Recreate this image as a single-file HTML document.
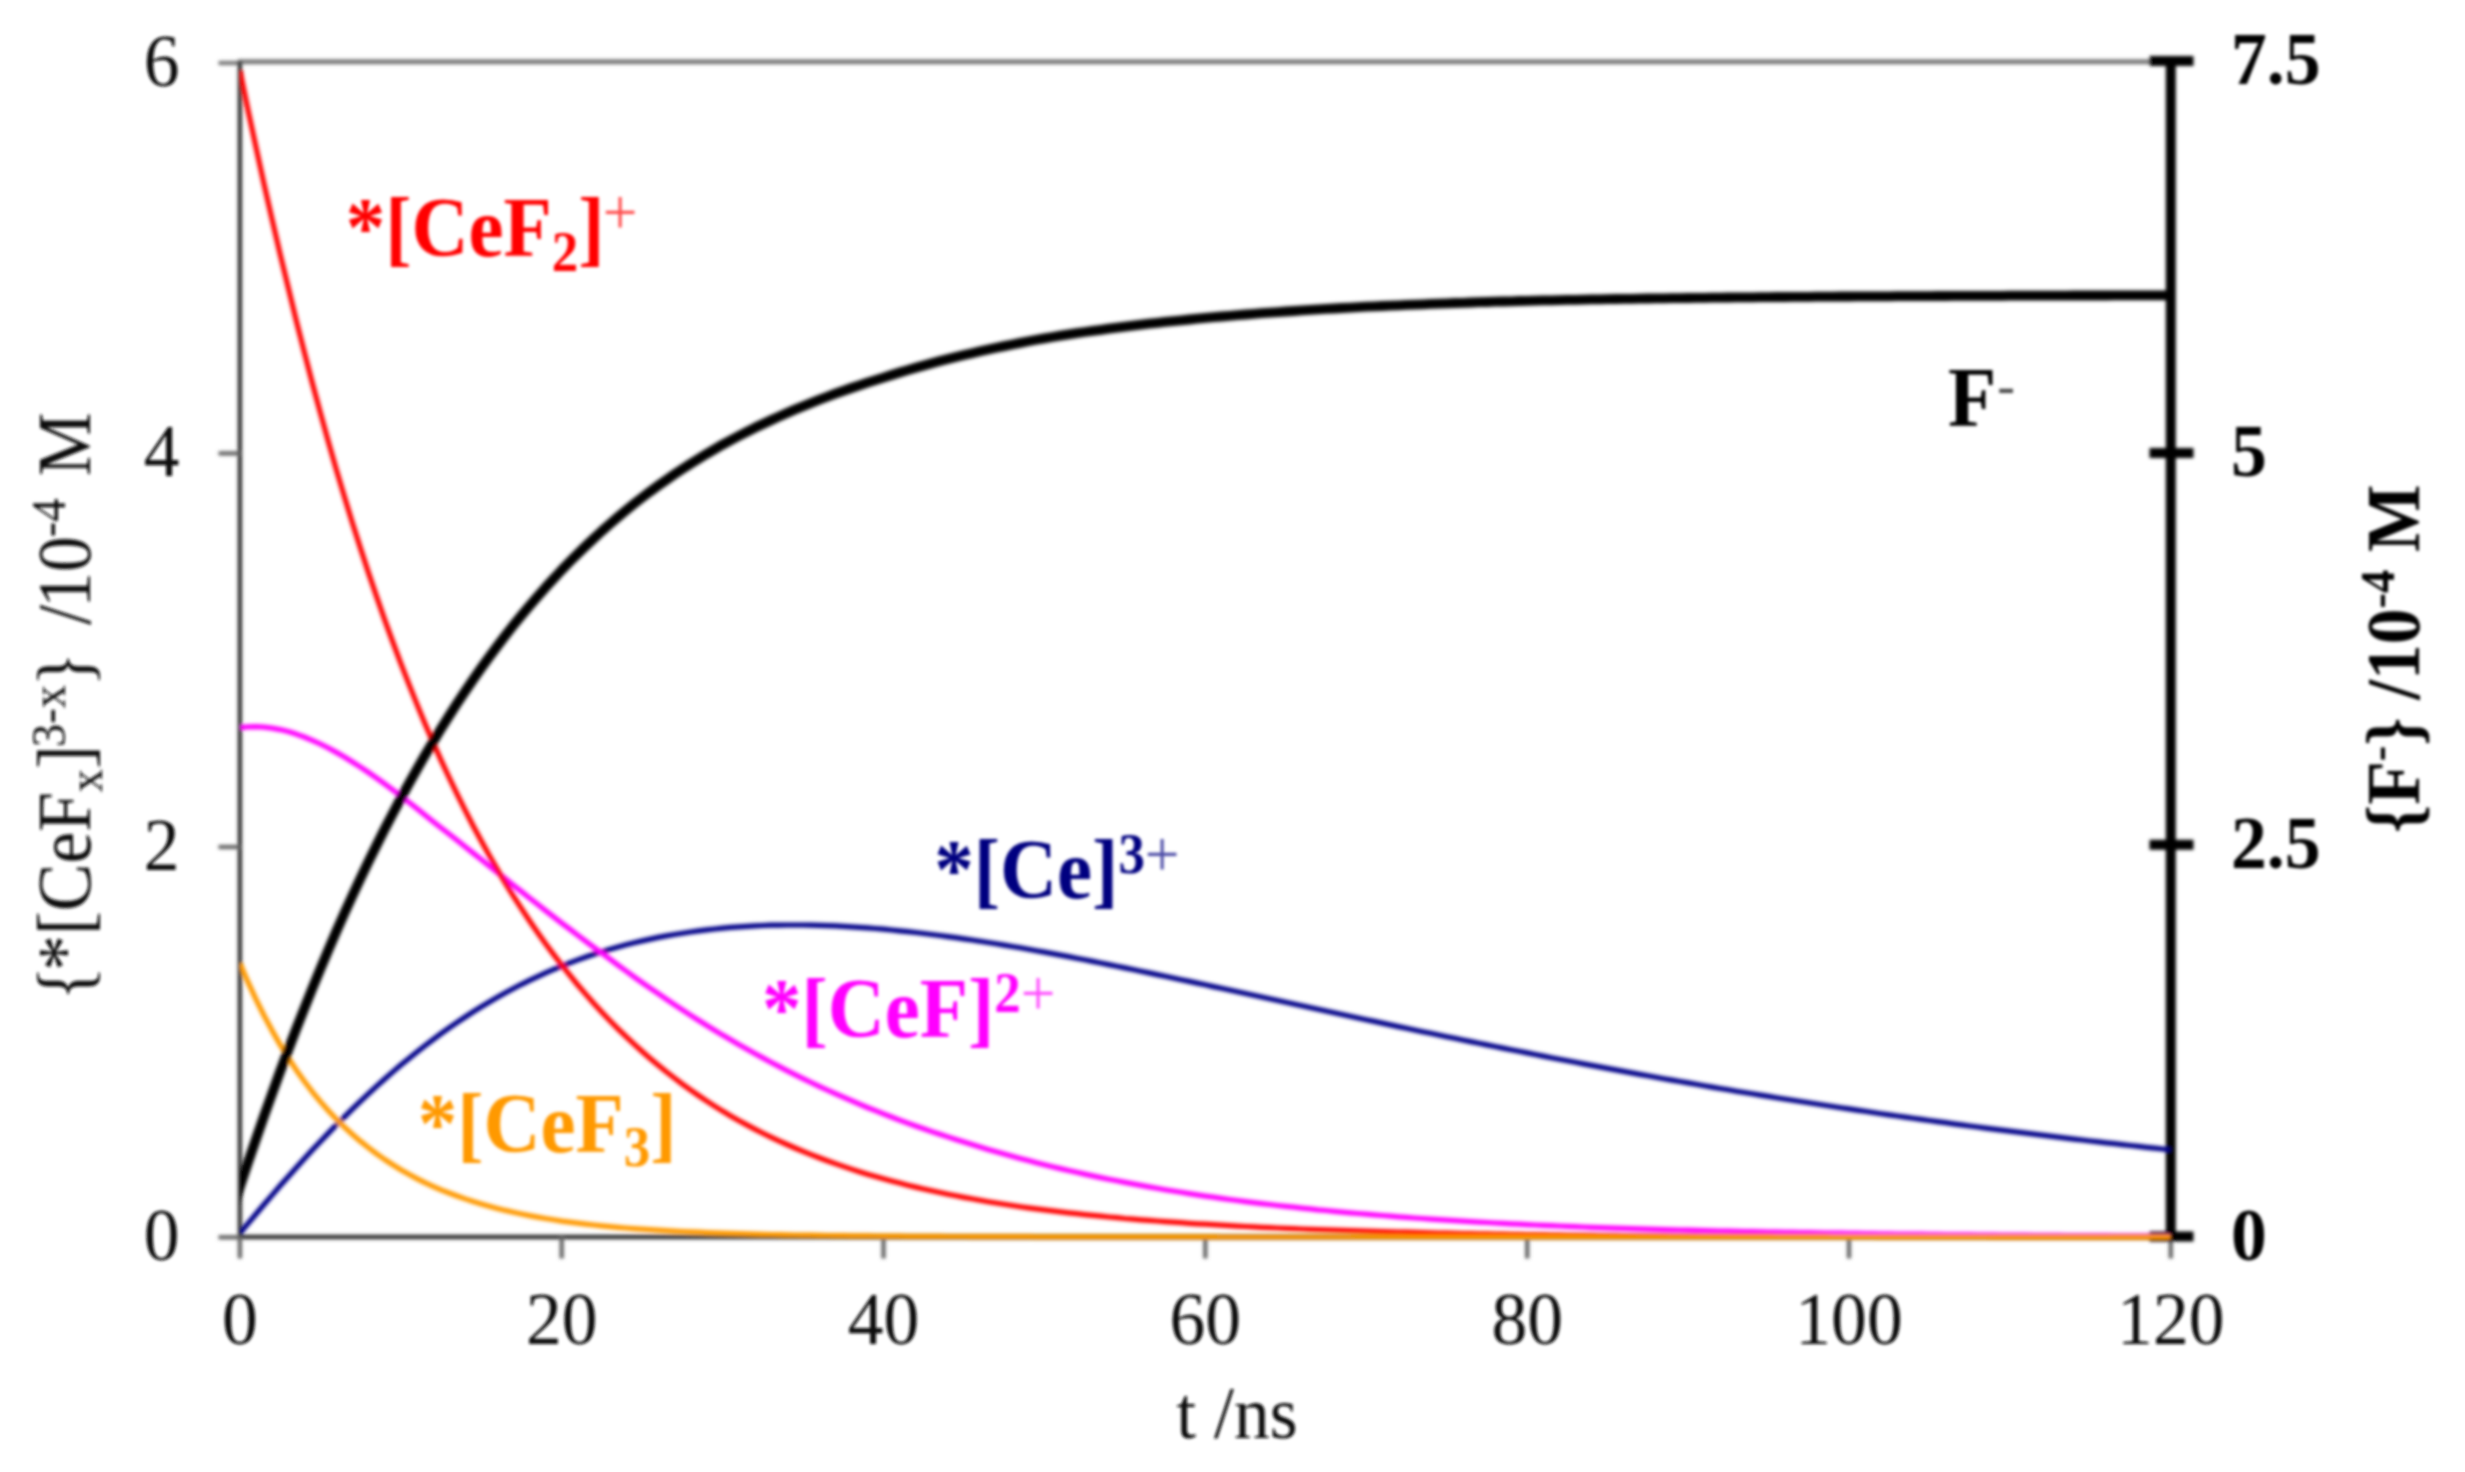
<!DOCTYPE html>
<html><head><meta charset="utf-8"><title>chart</title>
<style>
html,body{margin:0;padding:0;background:#fff;}
svg{display:block;font-family:"Liberation Serif",serif;}
</style></head><body>
<svg xmlns="http://www.w3.org/2000/svg" width="2465" height="1472" viewBox="0 0 2465 1472">
<defs><filter id="b2" x="0" y="0" width="2465" height="1472" filterUnits="userSpaceOnUse"><feGaussianBlur stdDeviation="1.0"/></filter><clipPath id="cp"><rect x="239.9" y="0" width="1934.4" height="1472"/></clipPath><filter id="b" x="0" y="0" width="2465" height="1472" filterUnits="userSpaceOnUse"><feGaussianBlur stdDeviation="1.45"/></filter></defs>
<rect width="2465" height="1472" fill="#fff"/>
<g filter="url(#b)">
<g filter="url(#b2)">
<line x1="218.5" x2="239.9" y1="63" y2="63" stroke="#7c7c7c" stroke-width="4.4"/><line x1="237.9" x2="2160" y1="61.8" y2="61.8" stroke="#7c7c7c" stroke-width="5"/>
<g stroke="#333333" stroke-width="4.4">
<line x1="239.9" x2="239.9" y1="61.6" y2="1237.0"/>
<line x1="239.9" x2="2170.8" y1="1237.0" y2="1237.0"/>
<g stroke="#686868"><line x1="218.5" x2="239.9" y1="1237.3" y2="1237.3"/><line x1="218.5" x2="239.9" y1="847.0" y2="847.0"/><line x1="218.5" x2="239.9" y1="453.4" y2="453.4"/><line x1="239.9" x2="239.9" y1="1237.0" y2="1258.5"/><line x1="561.7" x2="561.7" y1="1237.0" y2="1258.5"/><line x1="883.5" x2="883.5" y1="1237.0" y2="1258.5"/><line x1="1205.3" x2="1205.3" y1="1237.0" y2="1258.5"/><line x1="1527.2" x2="1527.2" y1="1237.0" y2="1258.5"/><line x1="1849.0" x2="1849.0" y1="1237.0" y2="1258.5"/><line x1="2170.8" x2="2170.8" y1="1237.0" y2="1258.5"/></g>
</g>
<g stroke="#000" stroke-width="10">
<line x1="2170.8" x2="2170.8" y1="61.1" y2="1236.5" stroke-linecap="butt"/>
<line x1="2149.5" x2="2193.5" y1="1236.5" y2="1236.5"/><line x1="2149.5" x2="2193.5" y1="844.7" y2="844.7"/><line x1="2149.5" x2="2193.5" y1="452.9" y2="452.9"/><line x1="2149.5" x2="2193.5" y1="61.1" y2="61.1"/>
</g>
</g>
<g fill="none" stroke-linejoin="round" clip-path="url(#cp)" filter="url(#b2)">
<path d="M239.9,1233.2 L247.9,1223.6 L256.0,1214.0 L264.0,1204.5 L272.1,1195.1 L280.1,1185.8 L288.2,1176.7 L296.2,1167.7 L304.3,1158.8 L312.3,1150.1 L320.4,1141.5 L328.4,1133.1 L336.4,1124.8 L344.5,1116.8 L352.5,1108.9 L360.6,1101.1 L368.6,1093.6 L376.7,1086.2 L384.7,1079.0 L392.8,1071.9 L400.8,1065.1 L408.9,1058.4 L416.9,1052.0 L424.9,1045.7 L433.0,1039.6 L441.0,1033.7 L449.1,1027.9 L457.1,1022.4 L465.2,1017.0 L473.2,1011.8 L481.3,1006.8 L489.3,1002.0 L497.4,997.3 L505.4,992.8 L513.4,988.5 L521.5,984.3 L529.5,980.4 L537.6,976.6 L545.6,972.9 L553.7,969.4 L561.7,966.1 L569.8,962.9 L577.8,959.9 L585.9,957.0 L593.9,954.3 L601.9,951.7 L610.0,949.3 L618.0,947.0 L626.1,944.8 L634.1,942.8 L642.2,940.9 L650.2,939.1 L658.3,937.4 L666.3,935.9 L674.4,934.5 L682.4,933.2 L690.4,932.0 L698.5,930.9 L706.5,929.9 L714.6,929.0 L722.6,928.1 L730.7,927.4 L738.7,926.8 L746.8,926.3 L754.8,925.8 L762.9,925.5 L770.9,925.2 L778.9,925.1 L787.0,925.0 L795.0,925.0 L803.1,925.0 L811.1,925.2 L819.2,925.3 L827.2,925.6 L835.3,925.9 L843.3,926.3 L851.4,926.8 L859.4,927.3 L867.4,927.9 L875.5,928.5 L883.5,929.2 L891.6,930.0 L899.6,930.8 L907.7,931.6 L915.7,932.5 L923.8,933.5 L931.8,934.5 L939.9,935.5 L947.9,936.6 L955.9,937.7 L964.0,938.9 L972.0,940.0 L980.1,941.3 L988.1,942.5 L996.2,943.8 L1004.2,945.1 L1012.3,946.5 L1020.3,947.8 L1028.4,949.2 L1036.4,950.7 L1044.4,952.1 L1052.5,953.6 L1060.5,955.1 L1068.6,956.6 L1076.6,958.2 L1084.7,959.8 L1092.7,961.4 L1100.8,963.0 L1108.8,964.6 L1116.9,966.2 L1124.9,967.9 L1132.9,969.5 L1141.0,971.2 L1149.0,972.9 L1157.1,974.6 L1165.1,976.2 L1173.2,978.0 L1181.2,979.7 L1189.3,981.4 L1197.3,983.1 L1205.3,984.8 L1213.4,986.6 L1221.4,988.3 L1229.5,990.0 L1237.5,991.8 L1245.6,993.5 L1253.6,995.2 L1261.7,997.0 L1269.7,998.7 L1277.8,1000.5 L1285.8,1002.2 L1293.8,1004.0 L1301.9,1005.7 L1309.9,1007.5 L1318.0,1009.2 L1326.0,1011.0 L1334.1,1012.7 L1342.1,1014.5 L1350.2,1016.2 L1358.2,1018.0 L1366.3,1019.7 L1374.3,1021.4 L1382.3,1023.1 L1390.4,1024.9 L1398.4,1026.6 L1406.5,1028.3 L1414.5,1030.0 L1422.6,1031.7 L1430.6,1033.3 L1438.7,1035.0 L1446.7,1036.7 L1454.8,1038.3 L1462.8,1040.0 L1470.8,1041.6 L1478.9,1043.3 L1486.9,1044.9 L1495.0,1046.5 L1503.0,1048.1 L1511.1,1049.7 L1519.1,1051.3 L1527.2,1052.9 L1535.2,1054.5 L1543.3,1056.1 L1551.3,1057.7 L1559.3,1059.2 L1567.4,1060.8 L1575.4,1062.3 L1583.5,1063.9 L1591.5,1065.4 L1599.6,1066.9 L1607.6,1068.4 L1615.7,1069.9 L1623.7,1071.4 L1631.8,1072.9 L1639.8,1074.4 L1647.8,1075.8 L1655.9,1077.3 L1663.9,1078.7 L1672.0,1080.1 L1680.0,1081.5 L1688.1,1082.9 L1696.1,1084.3 L1704.2,1085.7 L1712.2,1087.1 L1720.3,1088.5 L1728.3,1089.8 L1736.3,1091.2 L1744.4,1092.5 L1752.4,1093.8 L1760.5,1095.1 L1768.5,1096.4 L1776.6,1097.7 L1784.6,1099.0 L1792.7,1100.3 L1800.7,1101.5 L1808.8,1102.8 L1816.8,1104.0 L1824.8,1105.3 L1832.9,1106.5 L1840.9,1107.7 L1849.0,1108.9 L1857.0,1110.1 L1865.1,1111.3 L1873.1,1112.5 L1881.2,1113.7 L1889.2,1114.8 L1897.3,1116.0 L1905.3,1117.1 L1913.3,1118.3 L1921.4,1119.4 L1929.4,1120.5 L1937.5,1121.6 L1945.5,1122.7 L1953.6,1123.8 L1961.6,1124.9 L1969.7,1126.0 L1977.7,1127.0 L1985.8,1128.1 L1993.8,1129.1 L2001.8,1130.2 L2009.9,1131.2 L2017.9,1132.2 L2026.0,1133.2 L2034.0,1134.2 L2042.1,1135.2 L2050.1,1136.2 L2058.2,1137.1 L2066.2,1138.1 L2074.3,1139.1 L2082.3,1140.0 L2090.3,1141.0 L2098.4,1141.9 L2106.4,1142.8 L2114.5,1143.7 L2122.5,1144.6 L2130.6,1145.5 L2138.6,1146.4 L2146.7,1147.3 L2154.7,1148.2 L2162.8,1149.0 L2170.8,1149.9" stroke="#000088" stroke-width="5.2"/>
<path d="M239.9,727.6 L247.9,726.8 L256.0,726.7 L264.0,727.1 L272.1,728.1 L280.1,729.6 L288.2,731.6 L296.2,734.1 L304.3,737.0 L312.3,740.3 L320.4,744.0 L328.4,748.0 L336.4,752.4 L344.5,757.0 L352.5,762.0 L360.6,767.1 L368.6,772.5 L376.7,778.1 L384.7,783.9 L392.8,789.9 L400.8,796.0 L408.9,802.2 L416.9,808.5 L424.9,815.0 L433.0,821.5 L441.0,827.7 L449.1,834.0 L457.1,840.3 L465.2,846.7 L473.2,853.1 L481.3,859.5 L489.3,866.0 L497.4,872.4 L505.4,878.8 L513.4,885.2 L521.5,891.6 L529.5,898.0 L537.6,904.3 L545.6,910.6 L553.7,916.9 L561.7,923.1 L569.8,929.2 L577.8,935.3 L585.9,941.3 L593.9,947.3 L601.9,953.2 L610.0,959.2 L618.0,965.2 L626.1,971.0 L634.1,976.8 L642.2,982.6 L650.2,988.2 L658.3,993.7 L666.3,999.2 L674.4,1004.6 L682.4,1009.9 L690.4,1015.1 L698.5,1020.2 L706.5,1025.3 L714.6,1030.2 L722.6,1035.1 L730.7,1039.8 L738.7,1044.5 L746.8,1049.0 L754.8,1053.5 L762.9,1057.9 L770.9,1062.2 L778.9,1066.4 L787.0,1070.6 L795.0,1074.6 L803.1,1078.6 L811.1,1082.5 L819.2,1086.3 L827.2,1090.0 L835.3,1093.7 L843.3,1097.2 L851.4,1100.7 L859.4,1104.1 L867.4,1107.5 L875.5,1110.7 L883.5,1113.9 L891.6,1117.0 L899.6,1120.1 L907.7,1123.1 L915.7,1126.0 L923.8,1128.8 L931.8,1131.6 L939.9,1134.3 L947.9,1136.9 L955.9,1139.5 L964.0,1142.0 L972.0,1144.5 L980.1,1147.0 L988.1,1149.4 L996.2,1151.7 L1004.2,1154.0 L1012.3,1156.3 L1020.3,1158.5 L1028.4,1160.6 L1036.4,1162.7 L1044.4,1164.7 L1052.5,1166.7 L1060.5,1168.6 L1068.6,1170.5 L1076.6,1172.3 L1084.7,1174.1 L1092.7,1175.9 L1100.8,1177.6 L1108.8,1179.2 L1116.9,1180.8 L1124.9,1182.4 L1132.9,1183.9 L1141.0,1185.4 L1149.0,1186.9 L1157.1,1188.3 L1165.1,1189.7 L1173.2,1191.0 L1181.2,1192.3 L1189.3,1193.6 L1197.3,1194.9 L1205.3,1196.1 L1213.4,1197.2 L1221.4,1198.4 L1229.5,1199.5 L1237.5,1200.5 L1245.6,1201.6 L1253.6,1202.6 L1261.7,1203.6 L1269.7,1204.5 L1277.8,1205.5 L1285.8,1206.4 L1293.8,1207.2 L1301.9,1208.1 L1309.9,1208.9 L1318.0,1209.8 L1326.0,1210.5 L1334.1,1211.3 L1342.1,1212.1 L1350.2,1212.8 L1358.2,1213.5 L1366.3,1214.2 L1374.3,1214.9 L1382.3,1215.5 L1390.4,1216.2 L1398.4,1216.8 L1406.5,1217.4 L1414.5,1218.0 L1422.6,1218.5 L1430.6,1219.1 L1438.7,1219.6 L1446.7,1220.1 L1454.8,1220.6 L1462.8,1221.1 L1470.8,1221.6 L1478.9,1222.1 L1486.9,1222.5 L1495.0,1223.0 L1503.0,1223.4 L1511.1,1223.8 L1519.1,1224.2 L1527.2,1224.6 L1535.2,1225.0 L1543.3,1225.3 L1551.3,1225.7 L1559.3,1226.0 L1567.4,1226.3 L1575.4,1226.7 L1583.5,1227.0 L1591.5,1227.3 L1599.6,1227.6 L1607.6,1227.8 L1615.7,1228.1 L1623.7,1228.4 L1631.8,1228.6 L1639.8,1228.9 L1647.8,1229.1 L1655.9,1229.4 L1663.9,1229.6 L1672.0,1229.8 L1680.0,1230.0 L1688.1,1230.2 L1696.1,1230.4 L1704.2,1230.6 L1712.2,1230.8 L1720.3,1231.0 L1728.3,1231.2 L1736.3,1231.4 L1744.4,1231.5 L1752.4,1231.7 L1760.5,1231.9 L1768.5,1232.0 L1776.6,1232.2 L1784.6,1232.3 L1792.7,1232.4 L1800.7,1232.6 L1808.8,1232.7 L1816.8,1232.9 L1824.8,1233.0 L1832.9,1233.1 L1840.9,1233.2 L1849.0,1233.3 L1857.0,1233.4 L1865.1,1233.6 L1873.1,1233.7 L1881.2,1233.8 L1889.2,1233.9 L1897.3,1234.0 L1905.3,1234.1 L1913.3,1234.2 L1921.4,1234.2 L1929.4,1234.3 L1937.5,1234.4 L1945.5,1234.5 L1953.6,1234.6 L1961.6,1234.6 L1969.7,1234.7 L1977.7,1234.8 L1985.8,1234.9 L1993.8,1234.9 L2001.8,1235.0 L2009.9,1235.1 L2017.9,1235.1 L2026.0,1235.2 L2034.0,1235.3 L2042.1,1235.3 L2050.1,1235.4 L2058.2,1235.4 L2066.2,1235.5 L2074.3,1235.5 L2082.3,1235.6 L2090.3,1235.6 L2098.4,1235.7 L2106.4,1235.7 L2114.5,1235.8 L2122.5,1235.8 L2130.6,1235.9 L2138.6,1235.9 L2146.7,1235.9 L2154.7,1236.0 L2162.8,1236.0 L2170.8,1236.0" stroke="#ff00ff" stroke-width="5.2"/>
<path d="M239.9,70.6 L247.9,109.5 L256.0,147.3 L264.0,184.0 L272.1,219.5 L280.1,254.0 L288.2,287.4 L296.2,320.3 L304.3,352.2 L312.3,383.0 L320.4,412.9 L328.4,441.9 L336.4,469.9 L344.5,497.0 L352.5,523.2 L360.6,548.6 L368.6,573.1 L376.7,596.8 L384.7,619.8 L392.8,642.0 L400.8,663.4 L408.9,684.1 L416.9,704.1 L424.9,723.4 L433.0,742.1 L441.0,760.1 L449.1,777.5 L457.1,794.2 L465.2,810.4 L473.2,826.0 L481.3,841.1 L489.3,855.6 L497.4,869.6 L505.4,883.1 L513.4,896.1 L521.5,908.7 L529.5,920.8 L537.6,932.5 L545.6,943.7 L553.7,954.6 L561.7,965.0 L569.8,975.2 L577.8,985.0 L585.9,994.4 L593.9,1003.5 L601.9,1012.2 L610.0,1020.7 L618.0,1028.8 L626.1,1036.7 L634.1,1044.2 L642.2,1051.5 L650.2,1058.5 L658.3,1065.3 L666.3,1071.8 L674.4,1078.0 L682.4,1084.1 L690.4,1089.9 L698.5,1095.5 L706.5,1100.9 L714.6,1106.1 L722.6,1111.1 L730.7,1115.9 L738.7,1120.5 L746.8,1124.9 L754.8,1129.1 L762.9,1133.2 L770.9,1137.1 L778.9,1140.9 L787.0,1144.5 L795.0,1148.0 L803.1,1151.4 L811.1,1154.6 L819.2,1157.7 L827.2,1160.7 L835.3,1163.6 L843.3,1166.4 L851.4,1169.1 L859.4,1171.7 L867.4,1174.2 L875.5,1176.6 L883.5,1178.8 L891.6,1181.0 L899.6,1183.1 L907.7,1185.2 L915.7,1187.1 L923.8,1189.0 L931.8,1190.8 L939.9,1192.5 L947.9,1194.2 L955.9,1195.8 L964.0,1197.4 L972.0,1198.8 L980.1,1200.3 L988.1,1201.7 L996.2,1203.0 L1004.2,1204.3 L1012.3,1205.5 L1020.3,1206.7 L1028.4,1207.8 L1036.4,1208.9 L1044.4,1209.9 L1052.5,1210.9 L1060.5,1211.9 L1068.6,1212.8 L1076.6,1213.7 L1084.7,1214.6 L1092.7,1215.4 L1100.8,1216.2 L1108.8,1217.0 L1116.9,1217.7 L1124.9,1218.5 L1132.9,1219.1 L1141.0,1219.8 L1149.0,1220.4 L1157.1,1221.0 L1165.1,1221.6 L1173.2,1222.2 L1181.2,1222.7 L1189.3,1223.3 L1197.3,1223.8 L1205.3,1224.2 L1213.4,1224.7 L1221.4,1225.2 L1229.5,1225.6 L1237.5,1226.1 L1245.6,1226.5 L1253.6,1226.9 L1261.7,1227.3 L1269.7,1227.6 L1277.8,1228.0 L1285.8,1228.3 L1293.8,1228.7 L1301.9,1229.0 L1309.9,1229.3 L1318.0,1229.6 L1326.0,1229.9 L1334.1,1230.1 L1342.1,1230.4 L1350.2,1230.7 L1358.2,1230.9 L1366.3,1231.2 L1374.3,1231.4 L1382.3,1231.6 L1390.4,1231.8 L1398.4,1232.0 L1406.5,1232.2 L1414.5,1232.4 L1422.6,1232.6 L1430.6,1232.8 L1438.7,1233.0 L1446.7,1233.1 L1454.8,1233.3 L1462.8,1233.5 L1470.8,1233.6 L1478.9,1233.8 L1486.9,1233.9 L1495.0,1234.0 L1503.0,1234.2 L1511.1,1234.3 L1519.1,1234.4 L1527.2,1234.5 L1535.2,1234.6 L1543.3,1234.7 L1551.3,1234.8 L1559.3,1234.9 L1567.4,1235.0 L1575.4,1235.1 L1583.5,1235.1 L1591.5,1235.2 L1599.6,1235.3 L1607.6,1235.3 L1615.7,1235.4 L1623.7,1235.5 L1631.8,1235.5 L1639.8,1235.6 L1647.8,1235.6 L1655.9,1235.7 L1663.9,1235.7 L1672.0,1235.8 L1680.0,1235.8 L1688.1,1235.9 L1696.1,1235.9 L1704.2,1236.0 L1712.2,1236.0 L1720.3,1236.0 L1728.3,1236.1 L1736.3,1236.1 L1744.4,1236.2 L1752.4,1236.2 L1760.5,1236.2 L1768.5,1236.2 L1776.6,1236.3 L1784.6,1236.3 L1792.7,1236.3 L1800.7,1236.4 L1808.8,1236.4 L1816.8,1236.4 L1824.8,1236.4 L1832.9,1236.5 L1840.9,1236.5 L1849.0,1236.5 L1857.0,1236.5 L1865.1,1236.5 L1873.1,1236.5 L1881.2,1236.6 L1889.2,1236.6 L1897.3,1236.6 L1905.3,1236.6 L1913.3,1236.6 L1921.4,1236.6 L1929.4,1236.7 L1937.5,1236.7 L1945.5,1236.7 L1953.6,1236.7 L1961.6,1236.7 L1969.7,1236.7 L1977.7,1236.7 L1985.8,1236.7 L1993.8,1236.8 L2001.8,1236.8 L2009.9,1236.8 L2017.9,1236.8 L2026.0,1236.8 L2034.0,1236.8 L2042.1,1236.8 L2050.1,1236.8 L2058.2,1236.8 L2066.2,1236.8 L2074.3,1236.8 L2082.3,1236.8 L2090.3,1236.8 L2098.4,1236.9 L2106.4,1236.9 L2114.5,1236.9 L2122.5,1236.9 L2130.6,1236.9 L2138.6,1236.9 L2146.7,1236.9 L2154.7,1236.9 L2162.8,1236.9 L2170.8,1236.9" stroke="#ff0000" stroke-width="5.2"/>
<path d="M239.9,963.2 L247.9,981.9 L256.0,999.3 L264.0,1015.5 L272.1,1030.6 L280.1,1044.6 L288.2,1057.7 L296.2,1069.9 L304.3,1081.2 L312.3,1091.8 L320.4,1101.6 L328.4,1110.7 L336.4,1119.2 L344.5,1127.1 L352.5,1134.5 L360.6,1141.4 L368.6,1147.7 L376.7,1153.8 L384.7,1159.5 L392.8,1164.8 L400.8,1169.7 L408.9,1174.3 L416.9,1178.6 L424.9,1182.6 L433.0,1186.3 L441.0,1189.8 L449.1,1193.0 L457.1,1196.0 L465.2,1198.9 L473.2,1201.5 L481.3,1203.9 L489.3,1206.2 L497.4,1208.4 L505.4,1210.4 L513.4,1212.2 L521.5,1214.0 L529.5,1215.6 L537.6,1217.1 L545.6,1218.5 L553.7,1219.8 L561.7,1221.1 L569.8,1222.2 L577.8,1223.2 L585.9,1224.1 L593.9,1225.0 L601.9,1225.8 L610.0,1226.6 L618.0,1227.3 L626.1,1228.0 L634.1,1228.6 L642.2,1229.2 L650.2,1229.7 L658.3,1230.2 L666.3,1230.7 L674.4,1231.1 L682.4,1231.5 L690.4,1231.9 L698.5,1232.2 L706.5,1232.6 L714.6,1232.9 L722.6,1233.2 L730.7,1233.4 L738.7,1233.7 L746.8,1233.9 L754.8,1234.1 L762.9,1234.3 L770.9,1234.5 L778.9,1234.7 L787.0,1234.8 L795.0,1235.0 L803.1,1235.1 L811.1,1235.2 L819.2,1235.4 L827.2,1235.5 L835.3,1235.6 L843.3,1235.7 L851.4,1235.8 L859.4,1235.9 L867.4,1235.9 L875.5,1236.0 L883.5,1236.1 L891.6,1236.1 L899.6,1236.2 L907.7,1236.3 L915.7,1236.3 L923.8,1236.4 L931.8,1236.4 L939.9,1236.4 L947.9,1236.5 L955.9,1236.5 L964.0,1236.5 L972.0,1236.6 L980.1,1236.6 L988.1,1236.6 L996.2,1236.7 L1004.2,1236.7 L1012.3,1236.7 L1020.3,1236.7 L1028.4,1236.7 L1036.4,1236.8 L1044.4,1236.8 L1052.5,1236.8 L1060.5,1236.8 L1068.6,1236.8 L1076.6,1236.8 L1084.7,1236.8 L1092.7,1236.9 L1100.8,1236.9 L1108.8,1236.9 L1116.9,1236.9 L1124.9,1236.9 L1132.9,1236.9 L1141.0,1236.9 L1149.0,1236.9 L1157.1,1236.9 L1165.1,1236.9 L1173.2,1236.9 L1181.2,1236.9 L1189.3,1236.9 L1197.3,1236.9 L1205.3,1236.9 L1213.4,1236.9 L1221.4,1237.0 L1229.5,1237.0 L1237.5,1237.0 L1245.6,1237.0 L1253.6,1237.0 L1261.7,1237.0 L1269.7,1237.0 L1277.8,1237.0 L1285.8,1237.0 L1293.8,1237.0 L1301.9,1237.0 L1309.9,1237.0 L1318.0,1237.0 L1326.0,1237.0 L1334.1,1237.0 L1342.1,1237.0 L1350.2,1237.0 L1358.2,1237.0 L1366.3,1237.0 L1374.3,1237.0 L1382.3,1237.0 L1390.4,1237.0 L1398.4,1237.0 L1406.5,1237.0 L1414.5,1237.0 L1422.6,1237.0 L1430.6,1237.0 L1438.7,1237.0 L1446.7,1237.0 L1454.8,1237.0 L1462.8,1237.0 L1470.8,1237.0 L1478.9,1237.0 L1486.9,1237.0 L1495.0,1237.0 L1503.0,1237.0 L1511.1,1237.0 L1519.1,1237.0 L1527.2,1237.0 L1535.2,1237.0 L1543.3,1237.0 L1551.3,1237.0 L1559.3,1237.0 L1567.4,1237.0 L1575.4,1237.0 L1583.5,1237.0 L1591.5,1237.0 L1599.6,1237.0 L1607.6,1237.0 L1615.7,1237.0 L1623.7,1237.0 L1631.8,1237.0 L1639.8,1237.0 L1647.8,1237.0 L1655.9,1237.0 L1663.9,1237.0 L1672.0,1237.0 L1680.0,1237.0 L1688.1,1237.0 L1696.1,1237.0 L1704.2,1237.0 L1712.2,1237.0 L1720.3,1237.0 L1728.3,1237.0 L1736.3,1237.0 L1744.4,1237.0 L1752.4,1237.0 L1760.5,1237.0 L1768.5,1237.0 L1776.6,1237.0 L1784.6,1237.0 L1792.7,1237.0 L1800.7,1237.0 L1808.8,1237.0 L1816.8,1237.0 L1824.8,1237.0 L1832.9,1237.0 L1840.9,1237.0 L1849.0,1237.0 L1857.0,1237.0 L1865.1,1237.0 L1873.1,1237.0 L1881.2,1237.0 L1889.2,1237.0 L1897.3,1237.0 L1905.3,1237.0 L1913.3,1237.0 L1921.4,1237.0 L1929.4,1237.0 L1937.5,1237.0 L1945.5,1237.0 L1953.6,1237.0 L1961.6,1237.0 L1969.7,1237.0 L1977.7,1237.0 L1985.8,1237.0 L1993.8,1237.0 L2001.8,1237.0 L2009.9,1237.0 L2017.9,1237.0 L2026.0,1237.0 L2034.0,1237.0 L2042.1,1237.0 L2050.1,1237.0 L2058.2,1237.0 L2066.2,1237.0 L2074.3,1237.0 L2082.3,1237.0 L2090.3,1237.0 L2098.4,1237.0 L2106.4,1237.0 L2114.5,1237.0 L2122.5,1237.0 L2130.6,1237.0 L2138.6,1237.0 L2146.7,1237.0 L2154.7,1237.0 L2162.8,1237.0 L2170.8,1237.0" stroke="#ff9900" stroke-width="5.2"/>
<path d="M223.8,1234.8 L239.9,1186.7 L247.9,1162.7 L256.0,1139.1 L264.0,1116.1 L272.1,1093.6 L280.1,1071.5 L288.2,1050.0 L296.2,1029.0 L304.3,1008.5 L312.3,988.5 L320.4,968.9 L328.4,949.8 L336.4,931.2 L344.5,913.1 L352.5,895.4 L360.6,878.2 L368.6,861.4 L376.7,845.0 L384.7,829.0 L392.8,813.5 L400.8,798.4 L408.9,783.7 L416.9,769.4 L424.9,755.4 L433.0,741.9 L441.0,728.7 L449.1,715.8 L457.1,703.3 L465.2,691.2 L473.2,679.4 L481.3,667.9 L489.3,656.8 L497.4,646.0 L505.4,635.5 L513.4,625.3 L521.5,615.4 L529.5,605.8 L537.6,596.5 L545.6,587.4 L553.7,578.6 L561.7,570.0 L569.8,561.7 L577.8,553.7 L585.9,545.9 L593.9,538.4 L601.9,531.0 L610.0,523.9 L618.0,517.0 L626.1,510.3 L634.1,503.8 L642.2,497.5 L650.2,491.4 L658.3,485.6 L666.3,479.9 L674.4,474.3 L682.4,469.0 L690.4,463.8 L698.5,458.8 L706.5,453.9 L714.6,449.2 L722.6,444.6 L730.7,440.2 L738.7,436.0 L746.8,431.8 L754.8,427.8 L762.9,424.0 L770.9,420.2 L778.9,416.6 L787.0,413.0 L795.0,409.6 L803.1,406.3 L811.1,403.0 L819.2,399.8 L827.2,396.7 L835.3,393.7 L843.3,390.8 L851.4,388.0 L859.4,385.3 L867.4,382.6 L875.5,380.1 L883.5,377.6 L891.6,375.0 L899.6,372.5 L907.7,370.1 L915.7,367.8 L923.8,365.5 L931.8,363.3 L939.9,361.1 L947.9,359.1 L955.9,357.0 L964.0,355.1 L972.0,353.2 L980.1,351.3 L988.1,349.5 L996.2,347.8 L1004.2,346.1 L1012.3,344.5 L1020.3,342.9 L1028.4,341.3 L1036.4,339.8 L1044.4,338.4 L1052.5,337.0 L1060.5,335.7 L1068.6,334.4 L1076.6,333.2 L1084.7,332.0 L1092.7,330.9 L1100.8,329.8 L1108.8,328.7 L1116.9,327.6 L1124.9,326.6 L1132.9,325.6 L1141.0,324.6 L1149.0,323.7 L1157.1,322.8 L1165.1,321.9 L1173.2,321.1 L1181.2,320.3 L1189.3,319.5 L1197.3,318.7 L1205.3,317.9 L1213.4,317.2 L1221.4,316.5 L1229.5,315.8 L1237.5,315.1 L1245.6,314.5 L1253.6,313.8 L1261.7,313.2 L1269.7,312.6 L1277.8,312.1 L1285.8,311.5 L1293.8,311.0 L1301.9,310.4 L1309.9,309.9 L1318.0,309.4 L1326.0,308.9 L1334.1,308.5 L1342.1,308.0 L1350.2,307.6 L1358.2,307.2 L1366.3,306.7 L1374.3,306.4 L1382.3,306.0 L1390.4,305.6 L1398.4,305.3 L1406.5,304.9 L1414.5,304.6 L1422.6,304.3 L1430.6,303.9 L1438.7,303.6 L1446.7,303.3 L1454.8,303.0 L1462.8,302.8 L1470.8,302.5 L1478.9,302.2 L1486.9,302.0 L1495.0,301.7 L1503.0,301.5 L1511.1,301.3 L1519.1,301.0 L1527.2,300.8 L1535.2,300.6 L1543.3,300.4 L1551.3,300.3 L1559.3,300.1 L1567.4,299.9 L1575.4,299.8 L1583.5,299.6 L1591.5,299.4 L1599.6,299.3 L1607.6,299.2 L1615.7,299.0 L1623.7,298.9 L1631.8,298.8 L1639.8,298.6 L1647.8,298.5 L1655.9,298.4 L1663.9,298.3 L1672.0,298.2 L1680.0,298.1 L1688.1,298.0 L1696.1,297.9 L1704.2,297.8 L1712.2,297.7 L1720.3,297.6 L1728.3,297.5 L1736.3,297.4 L1744.4,297.3 L1752.4,297.3 L1760.5,297.2 L1768.5,297.1 L1776.6,297.0 L1784.6,297.0 L1792.7,296.9 L1800.7,296.8 L1808.8,296.8 L1816.8,296.7 L1824.8,296.7 L1832.9,296.6 L1840.9,296.5 L1849.0,296.5 L1857.0,296.4 L1865.1,296.4 L1873.1,296.3 L1881.2,296.3 L1889.2,296.3 L1897.3,296.2 L1905.3,296.2 L1913.3,296.1 L1921.4,296.1 L1929.4,296.1 L1937.5,296.0 L1945.5,296.0 L1953.6,295.9 L1961.6,295.9 L1969.7,295.9 L1977.7,295.8 L1985.8,295.8 L1993.8,295.8 L2001.8,295.8 L2009.9,295.7 L2017.9,295.7 L2026.0,295.7 L2034.0,295.7 L2042.1,295.6 L2050.1,295.6 L2058.2,295.6 L2066.2,295.6 L2074.3,295.5 L2082.3,295.5 L2090.3,295.5 L2098.4,295.5 L2106.4,295.5 L2114.5,295.4 L2122.5,295.4 L2130.6,295.4 L2138.6,295.4 L2146.7,295.4 L2154.7,295.4 L2162.8,295.4 L2170.8,295.3" stroke="#000" stroke-width="9.8"/>
</g>
<g fill="#111"><text transform="translate(179.5,1260.3) scale(0.955,1)" font-size="75" text-anchor="end">0</text><text transform="translate(179.5,870.0) scale(0.955,1)" font-size="75" text-anchor="end">2</text><text transform="translate(179.5,476.4) scale(0.955,1)" font-size="75" text-anchor="end">4</text><text transform="translate(179.5,86.0) scale(0.955,1)" font-size="75" text-anchor="end">6</text><text transform="translate(239.9,1343.5) scale(0.955,1)" font-size="75" text-anchor="middle">0</text><text transform="translate(561.7,1343.5) scale(0.955,1)" font-size="75" text-anchor="middle">20</text><text transform="translate(883.5,1343.5) scale(0.955,1)" font-size="75" text-anchor="middle">40</text><text transform="translate(1205.3,1343.5) scale(0.955,1)" font-size="75" text-anchor="middle">60</text><text transform="translate(1527.2,1343.5) scale(0.955,1)" font-size="75" text-anchor="middle">80</text><text transform="translate(1849.0,1343.5) scale(0.955,1)" font-size="75" text-anchor="middle">100</text><text transform="translate(2170.8,1343.5) scale(0.955,1)" font-size="75" text-anchor="middle">120</text><text transform="translate(1237,1437.5) scale(0.955,1)" font-size="75" text-anchor="middle">t /ns</text></g>
<g fill="#000"><text transform="translate(2231,1259.5) scale(0.955,1)" font-size="75" font-weight="bold">0</text><text transform="translate(2231,867.7) scale(0.955,1)" font-size="75" font-weight="bold">2.5</text><text transform="translate(2231,475.9) scale(0.955,1)" font-size="75" font-weight="bold">5</text><text transform="translate(2231,84.1) scale(0.955,1)" font-size="75" font-weight="bold">7.5</text></g>
<text transform="translate(345.8,256) scale(0.929,1)" font-size="85" fill="#ff0000" font-weight="bold">*[CeF<tspan font-size="57.0" dy="14.8">2</tspan><tspan dy="-14.8">]</tspan><tspan font-size="66.3" dy="-22.0" dx="-2" font-weight="normal" fill-opacity="0.7">+</tspan></text><text transform="translate(417.8,1151.5) scale(0.929,1)" font-size="85" fill="#ff9900" font-weight="bold">*[CeF<tspan font-size="57.0" dy="14.8">3</tspan><tspan dy="-14.8">]</tspan></text><text transform="translate(762,1037) scale(0.929,1)" font-size="85" fill="#ff00ff" font-weight="bold">*[CeF]<tspan font-size="57.0" dy="-25.0">2</tspan><tspan font-size="66.3" dy="3.0" font-weight="normal" fill-opacity="0.7">+</tspan></text><text transform="translate(934.3,897.6) scale(0.929,1)" font-size="85" fill="#000080" font-weight="bold">*[Ce]<tspan font-size="57.0" dy="-25.0">3</tspan><tspan font-size="66.3" dy="3.0" font-weight="normal" fill-opacity="0.7">+</tspan></text><text transform="translate(1948,426) scale(0.929,1)" font-size="85" fill="#000000" font-weight="bold">F<tspan font-size="57.0" dy="-22.5" dx="1" font-weight="normal" fill-opacity="0.7">-</tspan></text>
<text transform="translate(90,1000.5) rotate(-90) scale(0.94,1)" font-size="76" fill="#111">{<tspan dx="-4.8">*[CeF</tspan><tspan font-size="49.4" dy="12.0">x</tspan><tspan dy="-12.0">]</tspan><tspan font-size="49.4" dy="-25.0" dx="-2">3-x</tspan><tspan dy="25.0" dx="-1.5">}</tspan><tspan dx="10.3"> /</tspan><tspan dx="-3">10</tspan><tspan font-size="49.4" dy="-25.0" dx="-1">-4</tspan><tspan dy="25.0" dx="4.8"> M</tspan></text><text transform="translate(2419,833) rotate(-90) scale(0.94,1)" font-size="76" fill="#000" font-weight="bold">{F<tspan font-size="49.4" dy="-25.0">-</tspan><tspan dy="25.0">}</tspan> /10<tspan font-size="49.4" dy="-25.0">-4</tspan><tspan dy="25.0"> M</tspan></text>
</g>
</svg>
</body></html>
